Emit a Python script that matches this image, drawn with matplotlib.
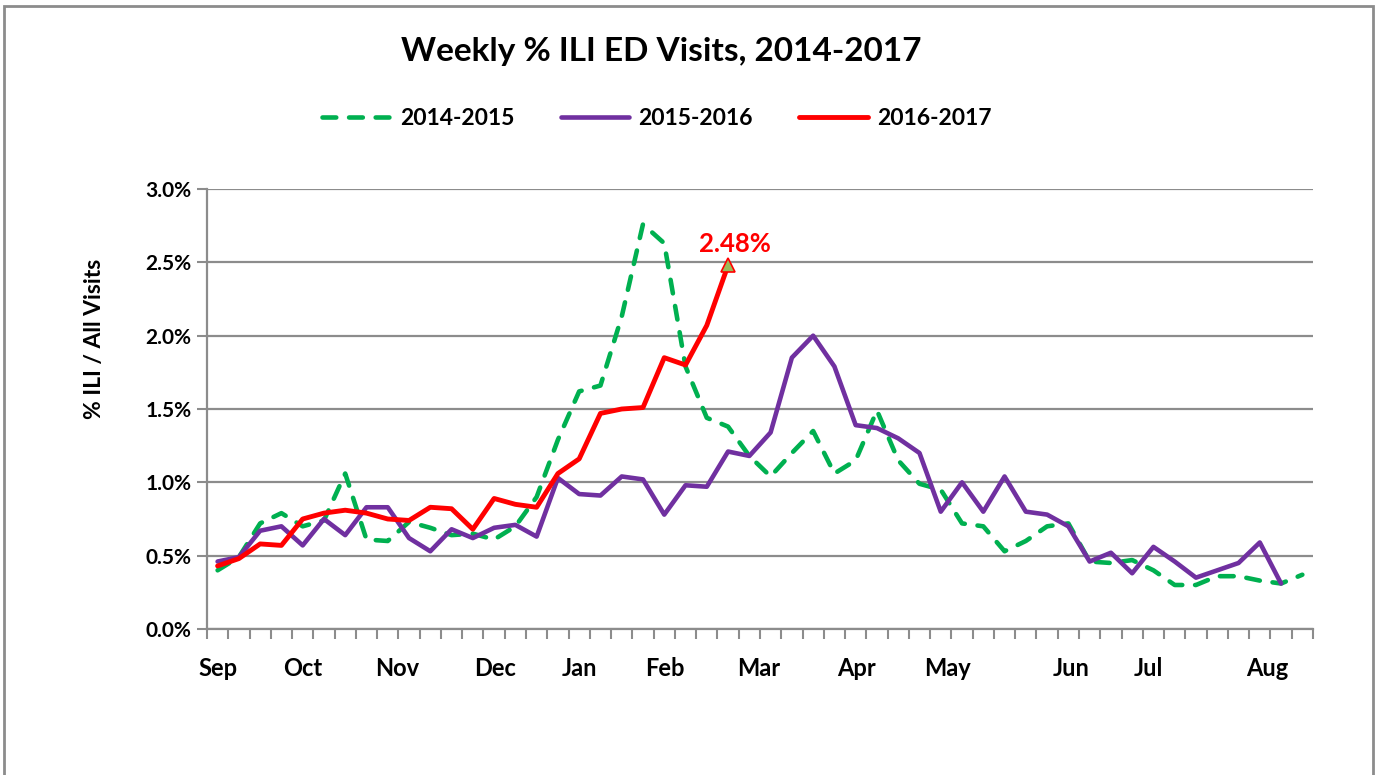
import matplotlib.pyplot as plt
from matplotlib.patches import Rectangle
from matplotlib.ticker import FuncFormatter

plt.rcParams['font.family'] = ['Lato', 'DejaVu Sans']
plt.rcParams['font.weight'] = 'bold'

# weekly % ILI of all ED visits, week 0 = first week of Sep
ili_2014 = [0.40, 0.49, 0.72, 0.79, 0.70, 0.74, 1.06, 0.61, 0.60, 0.73,
            0.69, 0.64, 0.65, 0.61, 0.70, 0.90, 1.29, 1.62, 1.66, 2.13,
            2.76, 2.63, 1.79, 1.44, 1.38, 1.18, 1.04, 1.20, 1.35, 1.06,
            1.15, 1.49, 1.15, 0.99, 0.95, 0.72, 0.70, 0.53, 0.60, 0.70,
            0.72, 0.46, 0.45, 0.47, 0.40, 0.30, 0.30, 0.36, 0.36, 0.33,
            0.31, 0.37]
ili_2015 = [0.46, 0.49, 0.67, 0.70, 0.57, 0.75, 0.64, 0.83, 0.83, 0.62,
            0.53, 0.68, 0.62, 0.69, 0.71, 0.63, 1.03, 0.92, 0.91, 1.04,
            1.02, 0.78, 0.98, 0.97, 1.21, 1.18, 1.34, 1.85, 2.00, 1.79,
            1.39, 1.37, 1.30, 1.20, 0.80, 1.00, 0.80, 1.04, 0.80, 0.78,
            0.70, 0.46, 0.52, 0.38, 0.56, 0.46, 0.35, 0.40, 0.45, 0.59,
            0.31]
ili_2016 = [0.43, 0.48, 0.58, 0.57, 0.75, 0.79, 0.81, 0.79, 0.75, 0.74,
            0.83, 0.82, 0.68, 0.89, 0.85, 0.83, 1.06, 1.16, 1.47, 1.50,
            1.51, 1.85, 1.80, 2.07, 2.48]

month_labels = ['Sep', 'Oct', 'Nov', 'Dec', 'Jan', 'Feb', 'Mar', 'Apr',
                'May', 'Jun', 'Jul', 'Aug']
month_pos = [0, 4, 8.43, 13.04, 17, 21.03, 25.45, 30.06, 34.34, 40.15,
             43.74, 49.33]
n_weeks = 52

fig = plt.figure(figsize=(13.77, 7.75), dpi=100)
ax = fig.add_axes([0.1503, 0.1884, 0.8032, 0.5677])

fig.patches.append(Rectangle((4 / 1377, -0.05), 1369 / 1377, 1.05 - 6 / 775,
                             transform=fig.transFigure, fill=False,
                             edgecolor='#8c8c8c', linewidth=2))

ax.plot(range(len(ili_2014)), ili_2014, color='#00B050', linewidth=3.3,
        linestyle=(0, (3, 2.8)), dash_capstyle='round', label='2014-2015', zorder=3)
ax.plot(range(len(ili_2015)), ili_2015, color='#7030A0', linewidth=3.3,
        solid_capstyle='round', label='2015-2016', zorder=4)
ax.plot(range(len(ili_2016)), ili_2016, color='#FF0000', linewidth=3.5,
        solid_capstyle='round', label='2016-2017', zorder=5)

last = len(ili_2016) - 1
ax.plot(last, ili_2016[last], marker='^', markersize=10,
        markerfacecolor='#9BBB59', markeredgecolor='#FF0000',
        markeredgewidth=1.2, zorder=6)
ax.annotate('{:.2f}%'.format(ili_2016[last]), (last, ili_2016[last]),
            xytext=(5, 7), textcoords='offset points', ha='center',
            va='bottom', color='#FF0000', fontsize=18.5, fontweight='bold')

ax.set_xlim(-0.5, n_weeks - 0.5)
ax.set_ylim(0, 3.0)
ax.set_yticks([0, 0.5, 1.0, 1.5, 2.0, 2.5, 3.0])
ax.yaxis.set_major_formatter(FuncFormatter(lambda v, p: '{:.1f}%'.format(v)))
ax.grid(axis='y', color='#8c8c8c', linewidth=1.6)
ax.set_axisbelow(True)

ax.set_xticks([i - 0.5 for i in range(n_weeks + 1)])
ax.set_xticklabels([])
ax.set_xticks(month_pos, minor=True)
ax.set_xticklabels(month_labels, minor=True)
ax.tick_params(axis='x', which='major', length=7, width=1.5, color='#8c8c8c')
ax.tick_params(axis='x', which='minor', length=0, pad=20, labelsize=17)
ax.tick_params(axis='y', length=7, width=1.5, color='#8c8c8c', labelsize=15,
               pad=4)

for s in ['top', 'right']:
    ax.spines[s].set_visible(False)
for s in ['left', 'bottom']:
    ax.spines[s].set_color('#8c8c8c')
    ax.spines[s].set_linewidth(1.6)

ax.set_ylabel('% ILI / All Visits', fontsize=16.5, fontweight='bold',
              labelpad=29, y=0.66)

fig.text(0.48, 0.934, 'Weekly % ILI ED Visits, 2014-2017', ha='center',
         va='center', fontsize=24, fontweight='bold')
fig.legend(loc='center', bbox_to_anchor=(0.477, 0.847), ncol=3, frameon=False,
           fontsize=16.5, handlelength=3.0, columnspacing=2.0, handletextpad=0.4)

fig.savefig('out.png', dpi=100)
